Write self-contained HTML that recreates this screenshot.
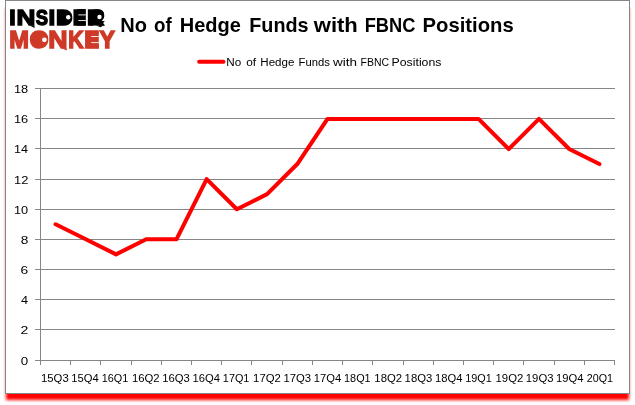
<!DOCTYPE html>
<html lang="en"><head><meta charset="utf-8"><title>No of Hedge Funds with FBNC Positions</title>
<style>
html,body{margin:0;padding:0;background:#fff;}
body{width:635px;height:405px;overflow:hidden;position:relative;font-family:"Liberation Sans",sans-serif;}
#frame{position:absolute;left:5px;top:0;width:623px;height:392px;border:1px solid #868686;background:#fff;box-shadow:0 7px 3px -1px #ff0000;}
svg{position:absolute;left:0;top:0;}
text{font-family:"Liberation Sans",sans-serif;}
</style></head><body>
<div id="frame"></div>
<svg width="635" height="405" viewBox="0 0 635 405">

<g stroke="#868686" stroke-width="1" fill="none" shape-rendering="crispEdges">
<line x1="35" y1="360.5" x2="615" y2="360.5"/>
<line x1="35" y1="329.5" x2="615" y2="329.5"/>
<line x1="35" y1="299.5" x2="615" y2="299.5"/>
<line x1="35" y1="269.5" x2="615" y2="269.5"/>
<line x1="35" y1="239.5" x2="615" y2="239.5"/>
<line x1="35" y1="209.5" x2="615" y2="209.5"/>
<line x1="35" y1="179.5" x2="615" y2="179.5"/>
<line x1="35" y1="148.5" x2="615" y2="148.5"/>
<line x1="35" y1="118.5" x2="615" y2="118.5"/>
<line x1="35" y1="88.5" x2="615" y2="88.5"/>
<line x1="40.5" y1="88" x2="40.5" y2="361"/>
<line x1="40.5" y1="361" x2="40.5" y2="365"/>
<line x1="70.5" y1="361" x2="70.5" y2="365"/>
<line x1="100.5" y1="361" x2="100.5" y2="365"/>
<line x1="131.5" y1="361" x2="131.5" y2="365"/>
<line x1="161.5" y1="361" x2="161.5" y2="365"/>
<line x1="191.5" y1="361" x2="191.5" y2="365"/>
<line x1="221.5" y1="361" x2="221.5" y2="365"/>
<line x1="251.5" y1="361" x2="251.5" y2="365"/>
<line x1="282.5" y1="361" x2="282.5" y2="365"/>
<line x1="312.5" y1="361" x2="312.5" y2="365"/>
<line x1="342.5" y1="361" x2="342.5" y2="365"/>
<line x1="372.5" y1="361" x2="372.5" y2="365"/>
<line x1="403.5" y1="361" x2="403.5" y2="365"/>
<line x1="433.5" y1="361" x2="433.5" y2="365"/>
<line x1="463.5" y1="361" x2="463.5" y2="365"/>
<line x1="493.5" y1="361" x2="493.5" y2="365"/>
<line x1="523.5" y1="361" x2="523.5" y2="365"/>
<line x1="554.5" y1="361" x2="554.5" y2="365"/>
<line x1="584.5" y1="361" x2="584.5" y2="365"/>
<line x1="614.5" y1="361" x2="614.5" y2="365"/>
</g>
<polyline points="55.61,224.25 85.82,239.30 116.03,254.35 146.24,239.30 176.45,239.30 206.66,179.10 236.87,209.20 267.08,194.15 297.29,164.05 327.50,118.90 357.71,118.90 387.92,118.90 418.13,118.90 448.34,118.90 478.55,118.90 508.76,149.00 538.97,118.90 569.18,149.00 599.39,164.05" fill="none" stroke="#ff0000" stroke-width="4.05" stroke-linejoin="round" stroke-linecap="round"/>
<line x1="199.1" y1="61.8" x2="223.5" y2="61.8" stroke="#ff0000" stroke-width="3.9" stroke-linecap="round"/>
<text y="364.80" font-size="11.00" fill="#000"><tspan x="20.78" textLength="7.45" lengthAdjust="spacingAndGlyphs">0</tspan></text>
<text y="333.80" font-size="11.00" fill="#000"><tspan x="20.59" textLength="7.81" lengthAdjust="spacingAndGlyphs">2</tspan></text>
<text y="303.80" font-size="11.00" fill="#000"><tspan x="21.01" textLength="7.06" lengthAdjust="spacingAndGlyphs">4</tspan></text>
<text y="273.80" font-size="11.00" fill="#000"><tspan x="20.60" textLength="7.71" lengthAdjust="spacingAndGlyphs">6</tspan></text>
<text y="243.80" font-size="11.00" fill="#000"><tspan x="20.71" textLength="7.59" lengthAdjust="spacingAndGlyphs">8</tspan></text>
<text y="213.80" font-size="11.00" fill="#000"><tspan x="14.03" textLength="14.17" lengthAdjust="spacingAndGlyphs">10</tspan></text>
<text y="183.80" font-size="11.00" fill="#000"><tspan x="14.02" textLength="14.33" lengthAdjust="spacingAndGlyphs">12</tspan></text>
<text y="152.80" font-size="11.00" fill="#000"><tspan x="14.04" textLength="14.03" lengthAdjust="spacingAndGlyphs">14</tspan></text>
<text y="122.80" font-size="11.00" fill="#000"><tspan x="14.03" textLength="14.24" lengthAdjust="spacingAndGlyphs">16</tspan></text>
<text y="92.80" font-size="11.00" fill="#000"><tspan x="14.03" textLength="14.23" lengthAdjust="spacingAndGlyphs">18</tspan></text>
<text y="381.70" font-size="11.00" fill="#000"><tspan x="41.04" textLength="27.66" lengthAdjust="spacingAndGlyphs">15Q3</tspan></text>
<text y="381.70" font-size="11.00" fill="#000"><tspan x="71.34" textLength="27.48" lengthAdjust="spacingAndGlyphs">15Q4</tspan></text>
<text y="381.70" font-size="11.00" fill="#000"><tspan x="101.67" textLength="26.56" lengthAdjust="spacingAndGlyphs">16Q1</tspan></text>
<text y="381.70" font-size="11.00" fill="#000"><tspan x="131.94" textLength="27.73" lengthAdjust="spacingAndGlyphs">16Q2</tspan></text>
<text y="381.70" font-size="11.00" fill="#000"><tspan x="162.24" textLength="27.66" lengthAdjust="spacingAndGlyphs">16Q3</tspan></text>
<text y="381.70" font-size="11.00" fill="#000"><tspan x="192.54" textLength="27.48" lengthAdjust="spacingAndGlyphs">16Q4</tspan></text>
<text y="381.70" font-size="11.00" fill="#000"><tspan x="222.87" textLength="26.56" lengthAdjust="spacingAndGlyphs">17Q1</tspan></text>
<text y="381.70" font-size="11.00" fill="#000"><tspan x="253.14" textLength="27.73" lengthAdjust="spacingAndGlyphs">17Q2</tspan></text>
<text y="381.70" font-size="11.00" fill="#000"><tspan x="283.44" textLength="27.66" lengthAdjust="spacingAndGlyphs">17Q3</tspan></text>
<text y="381.70" font-size="11.00" fill="#000"><tspan x="313.74" textLength="27.48" lengthAdjust="spacingAndGlyphs">17Q4</tspan></text>
<text y="381.70" font-size="11.00" fill="#000"><tspan x="344.07" textLength="26.56" lengthAdjust="spacingAndGlyphs">18Q1</tspan></text>
<text y="381.70" font-size="11.00" fill="#000"><tspan x="374.34" textLength="27.73" lengthAdjust="spacingAndGlyphs">18Q2</tspan></text>
<text y="381.70" font-size="11.00" fill="#000"><tspan x="404.64" textLength="27.66" lengthAdjust="spacingAndGlyphs">18Q3</tspan></text>
<text y="381.70" font-size="11.00" fill="#000"><tspan x="434.94" textLength="27.48" lengthAdjust="spacingAndGlyphs">18Q4</tspan></text>
<text y="381.70" font-size="11.00" fill="#000"><tspan x="465.27" textLength="26.56" lengthAdjust="spacingAndGlyphs">19Q1</tspan></text>
<text y="381.70" font-size="11.00" fill="#000"><tspan x="495.54" textLength="27.73" lengthAdjust="spacingAndGlyphs">19Q2</tspan></text>
<text y="381.70" font-size="11.00" fill="#000"><tspan x="525.84" textLength="27.66" lengthAdjust="spacingAndGlyphs">19Q3</tspan></text>
<text y="381.70" font-size="11.00" fill="#000"><tspan x="556.14" textLength="27.48" lengthAdjust="spacingAndGlyphs">19Q4</tspan></text>
<text y="381.70" font-size="11.00" fill="#000"><tspan x="586.76" textLength="26.26" lengthAdjust="spacingAndGlyphs">20Q1</tspan></text>
<text y="65.70" font-size="11.05" fill="#000"><tspan x="226.34" textLength="14.95" lengthAdjust="spacingAndGlyphs">No</tspan> <tspan x="246.20" textLength="9.88" lengthAdjust="spacingAndGlyphs">of</tspan> <tspan x="260.35" textLength="34.06" lengthAdjust="spacingAndGlyphs">Hedge</tspan> <tspan x="298.58" textLength="31.33" lengthAdjust="spacingAndGlyphs">Funds</tspan> <tspan x="333.12" textLength="23.96" lengthAdjust="spacingAndGlyphs">with</tspan> <tspan x="360.54" textLength="28.46" lengthAdjust="spacingAndGlyphs">FBNC</tspan> <tspan x="391.59" textLength="49.85" lengthAdjust="spacingAndGlyphs">Positions</tspan></text>
<text y="32.00" font-size="20.50" font-weight="bold" fill="#000"><tspan x="120.26" textLength="26.72" lengthAdjust="spacingAndGlyphs">No</tspan> <tspan x="153.97" textLength="17.70" lengthAdjust="spacingAndGlyphs">of</tspan> <tspan x="179.76" textLength="61.12" lengthAdjust="spacingAndGlyphs">Hedge</tspan> <tspan x="249.28" textLength="59.33" lengthAdjust="spacingAndGlyphs">Funds</tspan> <tspan x="313.76" textLength="44.10" lengthAdjust="spacingAndGlyphs">with</tspan> <tspan x="364.68" textLength="50.72" lengthAdjust="spacingAndGlyphs">FBNC</tspan> <tspan x="422.54" textLength="91.19" lengthAdjust="spacingAndGlyphs">Positions</tspan></text>
<text y="24.95" font-size="22.00" font-weight="bold" fill="#000000" stroke="#000000" stroke-width="1.40" stroke-linejoin="miter"><tspan x="9.19" textLength="6.42" lengthAdjust="spacingAndGlyphs">I</tspan><tspan x="16.48" textLength="18.84" lengthAdjust="spacingAndGlyphs">N</tspan><tspan x="35.66" textLength="12.28" lengthAdjust="spacingAndGlyphs">S</tspan><tspan x="48.46" textLength="6.69" lengthAdjust="spacingAndGlyphs">I</tspan><tspan x="55.99" textLength="16.64" lengthAdjust="spacingAndGlyphs">D</tspan><tspan x="72.81" textLength="13.13" lengthAdjust="spacingAndGlyphs">E</tspan><tspan x="86.97" textLength="17.16" lengthAdjust="spacingAndGlyphs">R</tspan></text>
<text y="47.50" font-size="23.40" font-weight="bold" fill="#ce3a27" stroke="#ce3a27" stroke-width="1.40" stroke-linejoin="miter"><tspan x="9.22" textLength="19.75" lengthAdjust="spacingAndGlyphs">M</tspan><tspan x="29.63" textLength="19.17" lengthAdjust="spacingAndGlyphs">O</tspan><tspan x="48.31" textLength="19.29" lengthAdjust="spacingAndGlyphs">N</tspan><tspan x="68.21" textLength="15.45" lengthAdjust="spacingAndGlyphs">K</tspan><tspan x="84.18" textLength="14.83" lengthAdjust="spacingAndGlyphs">E</tspan><tspan x="99.50" textLength="15.48" lengthAdjust="spacingAndGlyphs">Y</tspan></text>
<g>
<rect x="60.5" y="11.5" width="8.5" height="12" fill="#000000"/>
<circle cx="68.2" cy="17.3" r="2.2" fill="#fff"/>
<rect x="77" y="9.1" width="8.8" height="16.5" fill="#000000"/>
<path d="M78.3 14.9H85.8M78.3 20.5H85.8" stroke="#fff" stroke-width="0.9" fill="none"/>
<rect x="90" y="9.2" width="14.2" height="12.5" rx="5.5" fill="#000000"/>
<rect x="90" y="19" width="10.5" height="6.6" fill="#000000"/>
<polygon points="99,20.5 104.8,21.3 102.6,23.4 103.8,25.6 99,25.6" fill="#000000"/>
<circle cx="99.5" cy="17" r="2.2" fill="#fff"/>
<polygon points="29.5,25.6 34.4,25.6 34.7,28" fill="#000000"/>
<polygon points="96,25.6 103.5,25.6 100.5,27.3" fill="#000000"/>
<ellipse cx="39.2" cy="39.5" rx="6" ry="6.5" fill="#ce3a27"/>
<circle cx="44.4" cy="39.8" r="2.4" fill="#fff"/>
<rect x="89" y="30.8" width="9.8" height="17.4" fill="#ce3a27"/>
<path d="M91.2 36.5H98.8M91.2 42.6H98.8" stroke="#fff" stroke-width="0.9" fill="none"/>
<polygon points="61.5,48.2 66.6,48.2 66.9,50.6" fill="#ce3a27"/>
</g>
</svg></body></html>
